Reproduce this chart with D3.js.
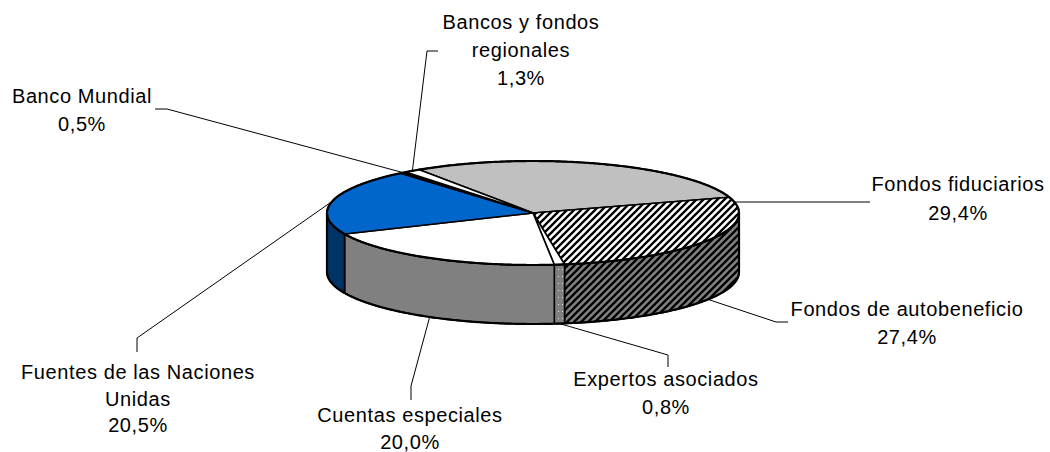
<!DOCTYPE html>
<html>
<head>
	<meta charset="UTF-8" />
	<title>pie 3d</title>
	<script src="https://d3js.org/d3.v7.min.js"></script>
	<style>
		body { margin:0; background:#fff; }
		text { font-family: Arial, "Liberation Sans", sans-serif; font-size:20px; letter-spacing:0.6px; fill:#000; }
	</style>
</head>
<body>
	<svg id="chart" width="1050" height="452"></svg>

	<script type="text/javascript">
	// data, in the order the slices run clockwise
	var categories = ["Fondos fiduciarios", "Fondos de autobeneficio", "Expertos asociados", "Cuentas especiales", "Fuentes de las Naciones Unidas", "Banco Mundial", "Bancos y fondos regionales"]
	var shares = [29.4, 27.4, 0.8, 20.0, 20.5, 0.5, 1.3]
	var shareLabels = ["29,4%", "27,4%", "0,8%", "20,0%", "20,5%", "0,5%", "1,3%"]
	var nameLines = [["Fondos fiduciarios"], ["Fondos de autobeneficio"], ["Expertos asociados"], ["Cuentas especiales"], ["Fuentes de las Naciones", "Unidas"], ["Banco Mundial"], ["Bancos y fondos", "regionales"]]

	// layout
	var cx = 533, cy = 213, rx = 206, ry = 52, depth = 59
	var startDeg = -33.5
	// label centre x, first line cap centre y, line gap, leader end points
	var labelLayout = [
		{x:958, y:184, gap:29, leader:[[870,202]], anchorDeg:-12.2},
		{x:907, y:309, gap:28, leader:[[776,322],[788,322]]},
		{x:666, y:379, gap:28, leader:[[668,355],[668,367]]},
		{x:410, y:415, gap:27, leader:[[411,386],[411,400]]},
		{x:138, y:372, gap:26.5, leader:[[137,338],[137,352]]},
		{x:82, y:96, gap:27.5, leader:[[167,109],[155,109]]},
		{x:521, y:22, gap:28, leader:[[427,51],[438,51]]}
	]

	var topFill = d3.scaleOrdinal().domain(categories)
		.range(["#c0c0c0", "url(#hatchTop)", "#ffffff", "#ffffff", "#0066cc", "#000000", "#ffffff"])
	var sideFill = d3.scaleOrdinal().domain(categories)
		.range(["#606060", "url(#hatchSide)", "url(#dotSide)", "#808080", "#003366", "#000000", "#808080"])

	var svg = d3.select("#chart")
	var defs = svg.append("defs")

	function hatch(id, bg){
		var p = defs.append("pattern").attr("id", id).attr("patternUnits", "userSpaceOnUse")
			.attr("width", 7).attr("height", 7)
		p.append("rect").attr("width", 7).attr("height", 7).attr("fill", bg)
		p.append("path").attr("d", "M0,7 L7,0 M-1,1 L1,-1 M6,8 L8,6")
			.attr("stroke", "#000").attr("stroke-width", 2.3)
	}
	hatch("hatchTop", "#fff")
	hatch("hatchSide", "#808080")
	var dp = defs.append("pattern").attr("id", "dotSide").attr("patternUnits", "userSpaceOnUse")
		.attr("width", 4).attr("height", 7)
	dp.append("rect").attr("width", 4).attr("height", 7).attr("fill", "#808080")
	dp.append("rect").attr("x", 2).attr("y", 3).attr("width", 1).attr("height", 1).attr("fill", "#e0e0e0")

	var pie = d3.pie().sort(null).value(d=>d)
		.startAngle(startDeg*Math.PI/180).endAngle(startDeg*Math.PI/180 + 2*Math.PI)
	var arcs = pie(shares).map((a,i)=>({
		name: categories[i],
		t0: a.startAngle - Math.PI/2,   // screen angle, clockwise from +x
		t1: a.endAngle - Math.PI/2,
		i: i
	}))

	function pt(t, dz){ return [cx + rx*Math.cos(t), cy + ry*Math.sin(t) + dz] }
	function arcPts(t0, t1, dz){
		var n = Math.max(2, Math.ceil(Math.abs(t1-t0)/0.01))
		return d3.range(n+1).map(k=>pt(t0 + (t1-t0)*k/n, dz))
	}
	var line = d3.line()

	// front sides
	var sides = []
	arcs.forEach(a=>{
		[-2*Math.PI, 0, 2*Math.PI].forEach(off=>{
			var s = Math.max(a.t0 + off, 0), e = Math.min(a.t1 + off, Math.PI)
			if (e > s) sides.push({name:a.name, s:s, e:e})
		})
	})
	svg.append("g").selectAll("path").data(sides).join("path")
		.attr("d", d=>line(arcPts(d.s, d.e, 0).concat(arcPts(d.e, d.s, depth))) + "Z")
		.attr("fill", d=>sideFill(d.name))
		.attr("stroke", "#000").attr("stroke-width", 1.6).attr("stroke-linejoin", "round")

	// tops
	svg.append("g").selectAll("path").data(arcs).join("path")
		.attr("d", d=>line([[cx, cy]].concat(arcPts(d.t0, d.t1, 0))) + "Z")
		.attr("fill", d=>topFill(d.name))
		.attr("stroke", "#000").attr("stroke-width", 1.6).attr("stroke-linejoin", "round")

	// outer outline
	svg.append("path")
		.attr("d", line(arcPts(0, 2*Math.PI, 0)) + "Z")
		.attr("fill", "none").attr("stroke", "#000").attr("stroke-width", 2.2)
	svg.append("path")
		.attr("d", line([pt(0,0)].concat(arcPts(0, Math.PI, depth)).concat([pt(Math.PI,0)])))
		.attr("fill", "none").attr("stroke", "#000").attr("stroke-width", 2.2)

	// leader lines
	var leaders = svg.append("g")
	arcs.forEach((a,i)=>{
		var L = labelLayout[i]
		var mid = L.anchorDeg !== undefined ? L.anchorDeg*Math.PI/180 : (a.t0 + a.t1)/2
		var sinm = Math.sin(mid)
		var anchor = pt(mid, sinm > 0 ? depth : 0)
		leaders.append("path")
			.attr("d", line([anchor].concat(L.leader)))
			.attr("fill", "none").attr("stroke", "#000").attr("stroke-width", 1)
	})

	// labels
	var labels = svg.append("g").selectAll("text").data(arcs).join("text")
		.attr("text-anchor", "middle")
	labels.each(function(d,i){
		var L = labelLayout[i]
		var rows = nameLines[i].concat([shareLabels[i]])
		d3.select(this).selectAll("tspan").data(rows).join("tspan")
			.attr("x", L.x)
			.attr("y", (r,k)=>L.y + k*L.gap + 7.2)
			.text(r=>r)
	})
	</script>
</body>
</html>
